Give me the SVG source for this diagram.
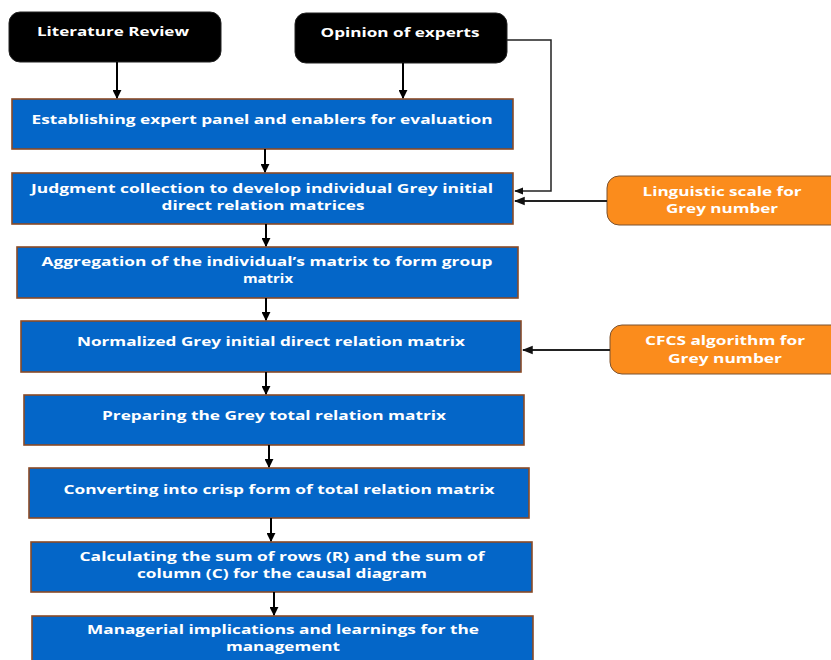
<svg xmlns="http://www.w3.org/2000/svg" width="831" height="660" viewBox="0 0 831 660">
<defs>
<marker id="ah" viewBox="0 0 10 10" refX="9" refY="5" markerWidth="4.5" markerHeight="4.5" orient="auto" markerUnits="strokeWidth">
<path d="M0,0 L10,5 L0,10 z" fill="#000"/>
</marker>
<marker id="ah2" viewBox="0 0 10 10" refX="9" refY="5" markerWidth="6" markerHeight="6" orient="auto" markerUnits="strokeWidth">
<path d="M0,1 L10,5 L0,9 z" fill="#111"/>
</marker>
</defs>
<style>
.src{fill:#000;stroke:#222;stroke-width:1}
.step{fill:#0466c8;stroke:#8a4a26;stroke-width:1.6}
.aux{fill:#fb8c1c;stroke:#7a5230;stroke-width:1}
text{font-family:"Open Sans","DejaVu Sans",sans-serif;font-weight:bold;font-size:13px;fill:#fff;text-anchor:middle;dominant-baseline:central}
.v{stroke:#000;stroke-width:2;fill:none;marker-end:url(#ah)}
.h{stroke:#222;stroke-width:1.8;fill:none;marker-end:url(#ah2)}
</style>
<rect width="831" height="660" fill="#fff"/>
<g id="literature-review">
<rect class="src" x="9" y="12" width="212" height="50" rx="11"/>
<text x="113" y="31" textLength="152" lengthAdjust="spacingAndGlyphs">Literature Review</text>
</g>
<g id="opinion-of-experts">
<rect class="src" x="295" y="13" width="212" height="50" rx="11"/>
<text x="400" y="32" textLength="159" lengthAdjust="spacingAndGlyphs">Opinion of experts</text>
</g>
<g id="establishing">
<rect class="step" x="12" y="99" width="501" height="50"/>
<text x="262" y="119" textLength="461" lengthAdjust="spacingAndGlyphs">Establishing expert panel and enablers for evaluation</text>
</g>
<g id="judgment">
<rect class="step" x="12" y="173" width="501" height="51"/>
<text x="262" y="188" textLength="462" lengthAdjust="spacingAndGlyphs">Judgment collection to develop individual Grey initial</text>
<text x="263" y="205" textLength="203" lengthAdjust="spacingAndGlyphs">direct relation matrices</text>
</g>
<g id="aggregation">
<rect class="step" x="17" y="247" width="501" height="51"/>
<text x="267" y="261" textLength="451" lengthAdjust="spacingAndGlyphs">Aggregation of the individual’s matrix to form group</text>
<text x="268" y="278" textLength="50" lengthAdjust="spacingAndGlyphs">matrix</text>
</g>
<g id="normalized">
<rect class="step" x="21" y="321" width="500" height="51"/>
<text x="271" y="341" textLength="388" lengthAdjust="spacingAndGlyphs">Normalized Grey initial direct relation matrix</text>
</g>
<g id="preparing">
<rect class="step" x="24" y="395" width="500" height="50"/>
<text x="274" y="415" textLength="344" lengthAdjust="spacingAndGlyphs">Preparing the Grey total relation matrix</text>
</g>
<g id="converting">
<rect class="step" x="29" y="468" width="500" height="50"/>
<text x="279" y="489" textLength="431" lengthAdjust="spacingAndGlyphs">Converting into crisp form of total relation matrix</text>
</g>
<g id="calculating">
<rect class="step" x="31" y="542" width="501" height="50"/>
<text x="282" y="556" textLength="405" lengthAdjust="spacingAndGlyphs">Calculating the sum of rows (R) and the sum of</text>
<text x="282" y="573" textLength="290" lengthAdjust="spacingAndGlyphs">column (C) for the causal diagram</text>
</g>
<g id="managerial">
<rect class="step" x="32" y="616" width="501" height="56"/>
<text x="283" y="629" textLength="392" lengthAdjust="spacingAndGlyphs">Managerial implications and learnings for the</text>
<text x="283" y="646" textLength="114" lengthAdjust="spacingAndGlyphs">management</text>
</g>
<g id="linguistic-scale">
<rect class="aux" x="607" y="176" width="240" height="49" rx="12"/>
<text x="722" y="191" textLength="159" lengthAdjust="spacingAndGlyphs">Linguistic scale for</text>
<text x="722" y="208" textLength="112" lengthAdjust="spacingAndGlyphs">Grey number</text>
</g>
<g id="cfcs-algorithm">
<rect class="aux" x="610" y="325" width="240" height="49" rx="12"/>
<text x="725" y="340" textLength="160" lengthAdjust="spacingAndGlyphs">CFCS algorithm for</text>
<text x="725" y="358" textLength="114" lengthAdjust="spacingAndGlyphs">Grey number</text>
</g>
<g id="connectors">
<path class="v" d="M117,62 V98"/>
<path class="v" d="M403,63 V98"/>
<path class="v" d="M265,149 V172"/>
<path class="v" d="M266,224 V246"/>
<path class="v" d="M266,298 V320"/>
<path class="v" d="M266,372 V394"/>
<path class="v" d="M269,445 V467"/>
<path class="v" d="M271,518 V541"/>
<path class="v" d="M274,592 V615"/>
<path class="h" style="stroke-width:1.5" d="M507,40 H551 V191 H515"/>
<path class="h" d="M607,201 H515"/>
<path class="h" d="M610,350 H523"/>
</g>
</svg>
